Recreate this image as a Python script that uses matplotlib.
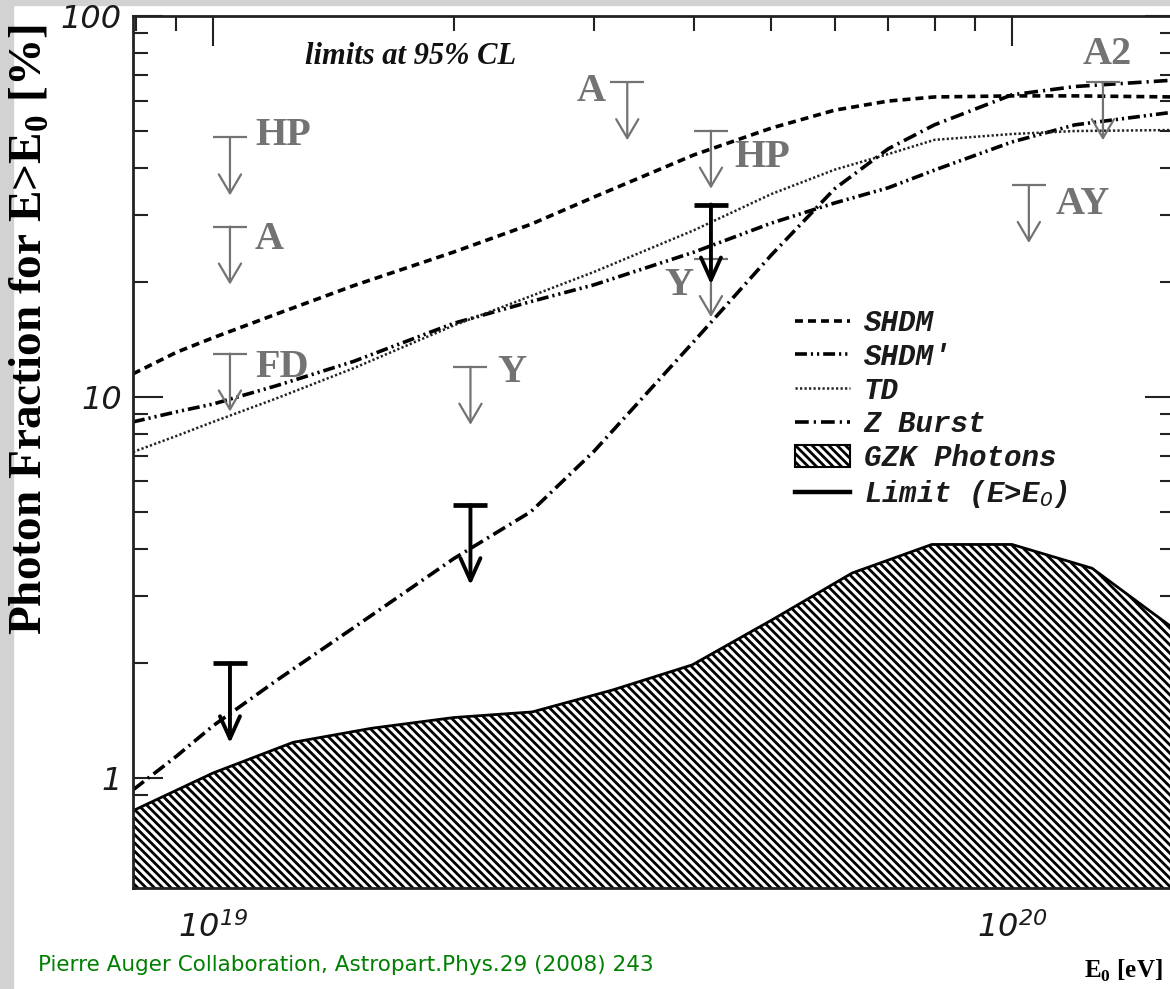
import matplotlib
matplotlib.use("Agg")
import matplotlib.pyplot as plt
from matplotlib.lines import Line2D
from matplotlib.patches import Patch, Rectangle
from matplotlib.transforms import offset_copy
from matplotlib.ticker import LogLocator, NullFormatter
from matplotlib.font_manager import FontProperties

plt.rcParams['mathtext.fontset'] = 'custom'
plt.rcParams['mathtext.rm'] = 'DejaVu Sans:italic'
plt.rcParams['mathtext.bf'] = 'Liberation Serif:bold'
plt.rcParams['mathtext.it'] = 'Liberation Mono:italic:bold'
plt.rcParams['hatch.linewidth'] = 2.0
plt.rcParams['hatch.color'] = 'black'

# ---------------- data ----------------
energy_model = [7.94e18, 9e18, 1e19, 1.2e19, 1.5e19, 2e19, 2.5e19, 3e19,
                4e19, 5e19, 6e19, 7e19, 8e19, 1e20, 1.2e20, 1.6e20]
shdm = [11.5, 13.1, 14.3, 16.5, 19.6, 24.0, 28.4, 33.5,
        43.2, 50.8, 56.6, 59.8, 61.3, 61.7, 61.7, 61.3]
shdm_prime = [8.6, 9.14, 9.58, 10.7, 12.4, 15.6, 17.8, 19.7,
              24.0, 28.6, 32.3, 35.4, 39.4, 46.7, 51.8, 56.0]
td = [7.17, 7.9, 8.6, 9.91, 11.9, 15.4, 18.4, 21.3,
      27.4, 34.1, 39.5, 43.4, 47.3, 49.0, 49.9, 50.2]
zburst = [0.93, 1.14, 1.37, 1.80, 2.48, 3.76, 5.0, 7.21,
          14.0, 23.6, 35.2, 44.8, 51.8, 62.1, 65.3, 67.9]

energy_gzk = [7.94e18, 1e19, 1.26e19, 1.58e19, 2e19, 2.51e19, 3.16e19,
              3.98e19, 5.01e19, 6.31e19, 7.94e19, 1e20, 1.26e20, 1.58e20]
gzk = [0.82, 1.03, 1.24, 1.35, 1.44, 1.49, 1.70, 1.98, 2.60, 3.45,
       4.1, 4.1, 3.55, 2.5]

auger_energy = [1.05e19, 2.1e19, 4.2e19]
auger_limit = [2.0, 5.2, 32.0]

other_labels = ['HP', 'A', 'FD', 'Y', 'A', 'HP', 'Y', 'AY', 'A2']
other_energy = [1.05e19, 1.05e19, 1.05e19, 2.1e19, 3.3e19, 4.2e19, 4.2e19, 1.05e20, 1.3e20]
other_limit = [48.0, 28.0, 13.0, 12.0, 67.0, 50.0, 23.0, 36.0, 67.0]

legend_labels = ['SHDM', "SHDM'", 'TD', 'Z Burst', 'GZK Photons', r'Limit (E>E$_{\mathit{0}}$)']
y_ticks = [1, 10, 100]
y_ticklabels = ['1', '10', '100']
x_ticks = [1e19, 1e20]
x_ticklabels = [r'10$^{19}$', r'10$^{20}$']

# ---------------- layout ----------------
W, H = 1170, 989
fig = plt.figure(figsize=(W / 100, H / 100), dpi=100, facecolor='white')
L, R, T, B = 133, 1175, 16, 888
ax = fig.add_axes([L / W, 1 - B / H, (R - L) / W, (B - T) / H])
ax.set_xscale('log')
ax.set_yscale('log')

# slide background strips
fig.add_artist(Rectangle((0, 0), 13 / W, 1, transform=fig.transFigure,
                         color='#d2d2d2', zorder=-5))
fig.add_artist(Rectangle((0, 1 - 5 / H), 1, 5 / H, transform=fig.transFigure,
                         color='#d2d2d2', zorder=-5))

HATCH = '\\\\\\\\'

# GZK photons (hatched)
ax.fill_between(energy_gzk, 0.1, gzk, facecolor='white', edgecolor='black',
                hatch=HATCH, linewidth=0, zorder=1.6)
ax.plot(energy_gzk, gzk, color='black', lw=2.0, zorder=1.7)

ls_shdm = (0, (2.2, 1.4))
ls_shdmp = (0, (3.3, 1.1, 0.6, 1.1, 0.6, 1.1))
ls_td = (0, (0.9, 0.9))
ls_z = (0, (3.8, 1.4, 0.6, 1.4))

ax.plot(energy_model, shdm, color='black', lw=2.6, linestyle=ls_shdm, zorder=3)
ax.plot(energy_model, shdm_prime, color='black', lw=2.6, linestyle=ls_shdmp, zorder=3)
ax.plot(energy_model, td, color='#222222', lw=1.8, linestyle=ls_td, zorder=3)
ax.plot(energy_model, zburst, color='black', lw=2.6, linestyle=ls_z, zorder=3)


def upper_limit(x, y, color, lw, cap_lw, length_px, hl, hw):
    ax.plot([x], [y], marker='_', ms=23.8, mew=cap_lw, color=color, zorder=5)
    tip = offset_copy(ax.transData, fig=fig, x=0, y=-length_px, units='dots')
    ax.annotate('', xy=(x, y), xycoords=tip, xytext=(x, y), textcoords='data',
                arrowprops=dict(arrowstyle=f'->,head_length={hl},head_width={hw}',
                                color=color, lw=lw, shrinkA=0, shrinkB=0,
                                mutation_scale=20),
                zorder=5)


gray = '#737373'
for x, y in zip(other_energy, other_limit):
    upper_limit(x, y, gray, 1.6, 1.6, 58, 0.68, 0.40)
for x, y in zip(auger_energy, auger_limit):
    upper_limit(x, y, 'black', 2.8, 3.4, 80, 0.8, 0.36)

label_offsets = [(25, -8, 'left'), (25, -22, 'left'), (25, -23, 'left'),
                 (27, -15, 'left'), (-22, -19, 'right'), (23, -36, 'left'),
                 (-18, -36, 'right'), (27, -29, 'left'), (4, 18, 'center')]
for lab, x, y, (dx, dy, ha) in zip(other_labels, other_energy, other_limit, label_offsets):
    ax.annotate(lab, xy=(x, y), xytext=(dx, dy), textcoords='offset pixels',
                ha=ha, va='baseline', fontsize=29, family='Liberation Serif',
                weight='bold', color=gray, zorder=6)

ax.text((305 - L) / (R - L), (B - 64) / (B - T), 'limits at 95% CL', transform=ax.transAxes,
        fontsize=22, family='Liberation Serif', weight='bold', style='italic',
        va='baseline', ha='left', color='#111111')

# legend
handles = [
    Line2D([], [], color='black', lw=2.6, linestyle=ls_shdm),
    Line2D([], [], color='black', lw=2.6, linestyle=ls_shdmp),
    Line2D([], [], color='#222222', lw=1.8, linestyle=ls_td),
    Line2D([], [], color='black', lw=2.6, linestyle=ls_z),
    Patch(facecolor='white', edgecolor='black', hatch=HATCH, lw=1.5),
    Line2D([], [], color='black', lw=3.2),
]
leg = ax.legend(handles, legend_labels, loc='upper left',
                bbox_to_anchor=((795 - L) / (R - L), (B - 309) / (B - T)), frameon=False,
                prop=FontProperties(family='Liberation Mono', style='italic',
                                    weight='bold', size=21),
                handlelength=1.9, handletextpad=0.45, labelspacing=0.2,
                borderaxespad=0, borderpad=0, handleheight=0.75)
for t in leg.get_texts():
    t.set_color('#1a1a1a')

# axes styling
for s in ax.spines.values():
    s.set_linewidth(2.0)
    s.set_color('#222222')
    s.set_zorder(4)

ax.yaxis.set_minor_locator(LogLocator(base=10, subs=range(2, 10), numticks=20))
ax.xaxis.set_minor_locator(LogLocator(base=10, subs=range(2, 10), numticks=20))
ax.set_yticks(y_ticks, labels=y_ticklabels)
ax.set_xticks(x_ticks, labels=x_ticklabels)
ax.yaxis.set_minor_formatter(NullFormatter())
ax.xaxis.set_minor_formatter(NullFormatter())
ax.set_xlim(7.94e18, 1.60e20)
ax.set_ylim(0.514, 100)

ax.tick_params(which='both', direction='in', top=True, right=True,
               color='#222222', width=1.5)
ax.tick_params(which='major', length=21.5)
ax.tick_params(which='minor', length=11)
ax.tick_params(axis='y', which='major', pad=8)
ax.tick_params(axis='x', which='major', pad=17)
for lab in ax.get_yticklabels() + ax.get_xticklabels():
    lab.set_fontfamily('DejaVu Sans')
    lab.set_fontstyle('italic')
    lab.set_fontsize(23)
    lab.set_color('#1a1a1a')

ax.set_ylabel(r'Photon Fraction for E>E$_{\mathbf{0}}$ [%]', family='Liberation Serif',
              weight='bold', fontsize=34, va='center', ha='center')
ax.yaxis.set_label_coords((30 - L) / (R - L), (B - 330) / (B - T))
ax.set_xlabel(r'E$_{\mathbf{0}}$ [eV]', family='Liberation Serif', weight='bold',
              fontsize=18, ha='left', va='baseline')
ax.xaxis.set_label_coords((1084 - L) / (R - L), (B - 978) / (B - T))

fig.text(38 / W, 1 - 965 / H, 'Pierre Auger Collaboration, Astropart.Phys.29 (2008) 243',
         color='#008000', fontsize=15.5, family='DejaVu Sans', ha='left', va='center')

fig.savefig('out.png', dpi=100, facecolor='white')
